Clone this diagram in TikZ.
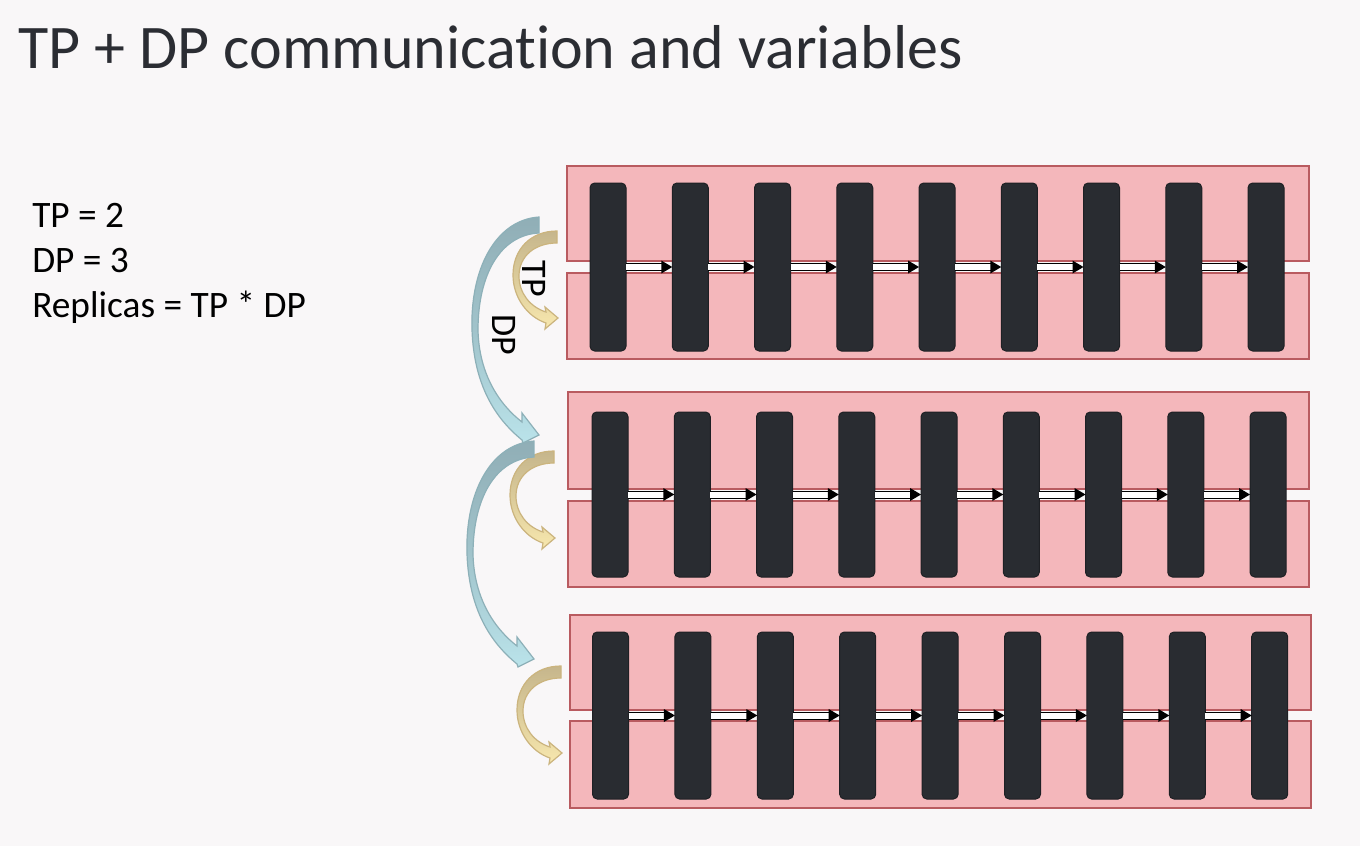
\documentclass[tikz,border=0pt]{standalone}
\usepackage{fontspec}
\setmainfont{Carlito}[Ligatures=NoCommon]
\definecolor{bg}{HTML}{F9F7F8}
\definecolor{panelfill}{HTML}{F4B7BB}
\definecolor{paneledge}{HTML}{B95B60}
\definecolor{barfill}{HTML}{292C31}
\definecolor{baredge}{HTML}{1E2024}
\definecolor{tptop}{HTML}{C6B68C}
\definecolor{tpbot}{HTML}{F8E8AE}
\definecolor{tpedge}{HTML}{CBB47E}
\definecolor{dptop}{HTML}{90AEB6}
\definecolor{dpbot}{HTML}{BAE3EA}
\definecolor{dpedge}{HTML}{8DB0B8}
\definecolor{titlec}{HTML}{2B2D33}
\tikzset{
  panel/.style={fill=panelfill, draw=paneledge, line width=1.5pt},
  bar/.style={fill=barfill, draw=baredge, line width=0.75pt, rounded corners=3.5pt,
    minimum width=27pt, inner sep=0pt, outer sep=0pt},
  conn/.style={draw=black, line width=0.75pt, double=white, double distance=4.5pt},
  connhead/.style={fill=black},
  bodytext/.style={anchor=base west, inner sep=0pt, font=\fontsize{28}{33}\selectfont, text=black},
  lbl/.style={inner sep=0pt, font=\fontsize{27}{32}\selectfont, text=black, rotate=-90},
  tparrow/.pic={
    \path[draw=tpedge, line width=0.9pt, top color=tptop, bottom color=tpbot, middle color=tptop!55!tpbot]
      (0,0) .. controls (-27,0) and (-44,19) .. (-44,44)
      .. controls (-44,67) and (-29,86) .. (-11,92)
      -- (-12,98) -- (1,87) -- (-12,76) -- (-11,81)
      .. controls (-27,76) and (-38,62) .. (-38,45)
      .. controls (-38,25) and (-22,12) .. (0,12) -- cycle;
  },
  dparrow/.pic={
    \path[draw=dpedge, line width=0.9pt, top color=dptop, bottom color=dpbot, middle color=dptop!60!dpbot]
      (0,0) .. controls (-44,3) and (-69,53) .. (-67,113)
      .. controls (-65,168) and (-44,201) .. (-17,223)
      -- (-16,226) -- (0,218) -- (-17,196) -- (-17,205)
      .. controls (-39,188) and (-60,158) .. (-61,113)
      .. controls (-61,58) and (-39,18) .. (0,16) -- cycle;
  }
}
\begin{document}
\begin{tikzpicture}[x=0.75pt,y=-0.75pt]
\useasboundingbox (0,0) rectangle (1360,846);
\fill[bg] (0,0) rectangle (1360,846);

% title and left text
\node[anchor=base west, inner sep=0pt, font=\fontsize{46.5}{52}\selectfont, text=titlec] (title) at (18,68) {TP + DP communication and variables};
\node[bodytext] (tpval) at (32,227) {TP = 2};
\node[bodytext] (dpval) at (32,272) {DP = 3};
\node[bodytext] (repl) at (32,317) {Replicas = TP * DP};

% groups: id / left / right / top1 / bot1 / top2 / bot2 / barx0 / dx / bary / barh
\foreach \g/\xl/\xr/\ta/\tb/\ua/\ub/\bx/\dx/\by/\bh in {
  1/567/1309/166/261/273/359/608/82.25/267/168,
  2/568/1309/392/489/501/587/610/82.25/494.5/165,
  3/570/1311/615/710/721/808/610.5/82.4/715.5/167}{
  \draw[panel] (\xl,\ta) rectangle (\xr,\tb);
  \draw[panel] (\xl,\ua) rectangle (\xr,\ub);
  \foreach \k in {0,...,8}{
    \node[bar, minimum height=\bh*0.75pt] (b\g-\k) at (\bx+\dx*\k,\by) {};
  }
  \foreach \k [evaluate=\k as \j using int(\k+1)] in {0,...,7}{
    \draw[conn] (b\g-\k.east) -- ([xshift=-7.5pt]b\g-\j.west);
    \fill[connhead] (b\g-\j.west) -- ++(-11,-6.5) -- ++(0,13) -- cycle;
  }
}

% curved arrows
\pic at (557,231) {tparrow};
\pic at (539,217) {dparrow};
\pic at (554,451) {tparrow};
\pic at (534,441) {dparrow};
\pic at (561,666) {tparrow};

% labels
\node[lbl] (tplab) at (534,279) {TP};
\node[lbl] (dplab) at (504,335) {DP};
\end{tikzpicture}
\end{document}
